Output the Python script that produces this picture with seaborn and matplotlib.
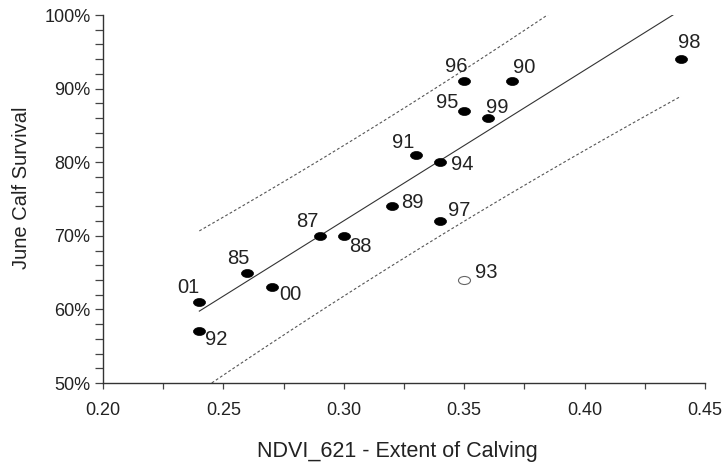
import numpy as np
import pandas as pd
import matplotlib
matplotlib.use("Agg")
import matplotlib.pyplot as plt
import seaborn as sns
from matplotlib.path import Path
from matplotlib.transforms import Affine2D
from matplotlib.ticker import MultipleLocator, PercentFormatter, FormatStrFormatter

# ---- data ----
years = ["01", "92", "85", "00", "87", "88", "89", "91", "94", "97", "95", "96", "99", "90", "98", "93"]
ndvi = [0.24, 0.24, 0.26, 0.27, 0.29, 0.30, 0.32, 0.33, 0.34, 0.34, 0.35, 0.35, 0.36, 0.37, 0.44, 0.35]
survival = [0.61, 0.57, 0.65, 0.63, 0.70, 0.70, 0.74, 0.81, 0.80, 0.72, 0.87, 0.91, 0.86, 0.91, 0.94, 0.64]
outlier = ["93"]

# label offsets in pixels (dx, dy; +dy is up)
label_offsets = {
    "96": (-8, 15), "90": (12, 14), "95": (-17, 8), "99": (9, 11), "91": (-13, 12),
    "94": (22, -2), "89": (20, 4), "97": (19, 11), "98": (8, 17), "87": (-12, 14),
    "88": (17, -11), "85": (-9, 14), "01": (-11, 15), "00": (19, -7), "92": (17, -8),
    "93": (22, 7.5),
}

df = pd.DataFrame({"year": years, "ndvi": ndvi, "survival": survival})
df["outlier"] = df["year"].isin(outlier)
fit = df[~df["outlier"]]

plt.rcParams["font.family"] = ["Liberation Sans", "DejaVu Sans"]
fig = plt.figure(figsize=(7.22, 4.67), dpi=100)
ax = fig.add_axes([103 / 722, 1 - 383 / 467, (705 - 103) / 722, (383 - 15) / 467])

# regression and 95% prediction interval (fit excludes the outlier)
x = fit["ndvi"].to_numpy()
y = fit["survival"].to_numpy()
n = len(x)
b, a = np.polyfit(x, y, 1)
resid = y - (a + b * x)
s = np.sqrt(np.sum(resid ** 2) / (n - 2))
tval = 2.1604
xx = np.linspace(0.24, 0.44, 200)
yy = a + b * xx
half = tval * s * np.sqrt(1 + 1 / n + (xx - x.mean()) ** 2 / np.sum((x - x.mean()) ** 2))
line_df = pd.DataFrame({"x": xx, "fit": yy, "lo": yy - half, "hi": yy + half})

sns.lineplot(data=line_df, x="x", y="fit", ax=ax, color="#333333", linewidth=0.8)
for col in ["lo", "hi"]:
    ax.plot(line_df["x"], line_df[col], color="#555555", linewidth=0.8, dashes=(2.5, 2))

# ellipse marker
ell = Path.unit_circle().transformed(Affine2D().scale(1.5, 1.0))
sns.scatterplot(data=df[~df["outlier"]], x="ndvi", y="survival", ax=ax, marker=ell,
                s=75, color="black", edgecolor="black", linewidth=0.5, zorder=5)
sns.scatterplot(data=df[df["outlier"]], x="ndvi", y="survival", ax=ax, marker=ell,
                s=75, facecolor="white", edgecolor="#666666", linewidth=0.8, zorder=5)

for _, r in df.iterrows():
    dx, dy = label_offsets[r["year"]]
    ax.annotate(r["year"], (r["ndvi"], r["survival"]), xytext=(dx * 0.72, dy * 0.72),
                textcoords="offset points", ha="center", va="center", fontsize=14.5,
                color="#222222")

ax.set_xlim(0.20, 0.45)
ax.set_ylim(0.50, 1.00)
ax.xaxis.set_major_locator(MultipleLocator(0.05))
ax.xaxis.set_minor_locator(MultipleLocator(0.025))
ax.xaxis.set_major_formatter(FormatStrFormatter("%.2f"))
ax.yaxis.set_major_locator(MultipleLocator(0.10))
ax.yaxis.set_minor_locator(MultipleLocator(0.02))
ax.yaxis.set_major_formatter(PercentFormatter(1.0, decimals=0))

for side in ["top", "right"]:
    ax.spines[side].set_visible(False)
for side in ["left", "bottom"]:
    ax.spines[side].set_color("#333333")
    ax.spines[side].set_linewidth(1.0)

ax.tick_params(axis="y", which="both", direction="out", length=6, width=0.9, color="#444444",
               labelsize=13, pad=3, labelcolor="#222222")
ax.tick_params(axis="x", which="both", direction="out", length=4.5, width=0.9, color="#444444",
               labelsize=13, pad=9, labelcolor="#222222")

ax.set_xlabel("NDVI_621 - Extent of Calving", fontsize=15.5, color="#222222")
ax.set_ylabel("June Calf Survival", fontsize=14.5, color="#222222")
ax.xaxis.set_label_coords((397.5 - 103) / 602, (383 - 441) / 368)
ax.yaxis.set_label_coords((31 - 103) / 602, (383 - 187.5) / 368)

fig.savefig("out.png", dpi=100)
